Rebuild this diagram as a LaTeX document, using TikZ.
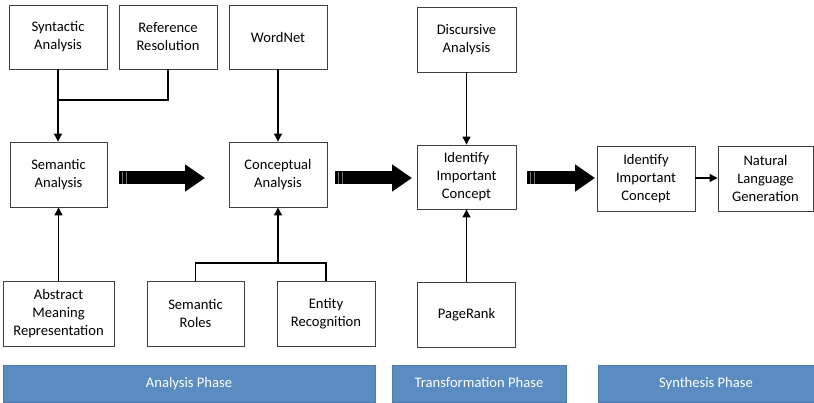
\documentclass[tikz,border=0pt]{standalone}
\usepackage{fontspec}
\setmainfont{Carlito}
\usetikzlibrary{arrows.meta,calc}
\definecolor{boxline}{HTML}{404040}
\definecolor{barfill}{HTML}{5B8CC1}
\definecolor{barline}{HTML}{4A7AB0}
\tikzset{
  box/.style={draw=boxline, line width=0.9pt, fill=white, minimum width=98pt, minimum height=64pt,
    align=center, inner sep=0pt, font=\fontsize{14.6pt}{18pt}\selectfont},
  bar/.style={draw=barline, line width=0.8pt, fill=barfill, minimum height=37pt, inner sep=0pt,
    text height=10pt, text depth=3pt,
    text=white, font=\fontsize{14.6pt}{17.7pt}\selectfont},
  conn/.style={draw=black, line width=1.1pt},
  arr/.style={conn, -{Triangle[length=8pt,width=8pt]}},
  bigarr/.style={draw=black, line width=13pt, -{Triangle[length=20pt,width=26pt]}},
}
\begin{document}
\begin{tikzpicture}[x=1pt,y=-1pt]
\useasboundingbox (0,0) rectangle (814,403);
% top row
\node[box] (syn) at (58,37) {Syntactic\\Analysis};
\node[box] (ref) at (168,37) {Reference\\Resolution};
\node[box] (wn) at (278,37) {WordNet};
\node[box, minimum width=99pt, minimum height=65pt] (disc) at (466.5,39.5) {Discursive\\Analysis};
% middle row
\node[box, minimum width=97pt, minimum height=65pt] (sem) at (58.5,174.5) {Semantic\\Analysis};
\node[box, minimum height=65pt] (con) at (278,174.5) {Conceptual\\Analysis};
\node[box, minimum width=99pt] (id1) at (466.5,177) {Identify\\Important\\Concept};
\node[box, minimum height=65pt] (id2) at (646,178.5) {Identify\\Important\\Concept};
\node[box, minimum width=95pt, minimum height=65pt] (nlg) at (765.5,178.5) {Natural\\Language\\Generation};
% bottom row
\node[box, minimum width=111pt, minimum height=65pt] (amr) at (58.5,313.5) {Abstract\\Meaning\\Representation};
\node[box, minimum width=97pt, minimum height=65pt] (roles) at (195.5,313.5) {Semantic\\Roles};
\node[box, minimum height=65pt] (ent) at (326,313.5) {Entity\\Recognition};
\node[box, minimum height=65pt] (pr) at (466.5,314.5) {PageRank};
% phase bars
\node[bar, minimum width=372pt] (ph1) at (189,384) {Analysis Phase};
\node[bar, minimum width=174pt] (ph2) at (479,384) {Transformation Phase};
\node[bar, minimum width=216pt] (ph3) at (706,384) {Synthesis Phase};
% connectors
\draw[arr] (syn.south) -- (sem.north -| syn.south);
\draw[conn] (ref.south) |- (syn.south |- 0,100);
\draw[arr] (wn.south) -- (con.north);
\draw[arr] (disc.south) -- (id1.north);
\draw[arr] (amr.north) -- (sem.south);
\draw[conn] (roles.north) |- (ent.north |- 0,263) -- (ent.north);
\draw[arr] (con.south |- 0,263) -- (con.south);
\draw[arr] (pr.north) -- (id1.south);
\draw[arr] (id2.east |- 0,178) -- (nlg.west |- 0,178);
% big arrows
\coordinate (b1s) at (119,178); \coordinate (b1e) at (205,178);
\coordinate (b2s) at (335,178); \coordinate (b2e) at (412,178);
\coordinate (b3s) at (527,178); \coordinate (b3e) at (595,178);
\foreach \s/\e in {b1s/b1e,b2s/b2e,b3s/b3e}{
  \draw[bigarr] (\s) -- (\e);
  \draw[white, opacity=0.45, line width=0.6pt] ($(\s)+(3,-6)$) -- ($(\s)+(3,6)$);
  \draw[white, opacity=0.45, line width=0.6pt] ($(\s)+(7,-6)$) -- ($(\s)+(7,6)$);
}
\end{tikzpicture}
\end{document}
